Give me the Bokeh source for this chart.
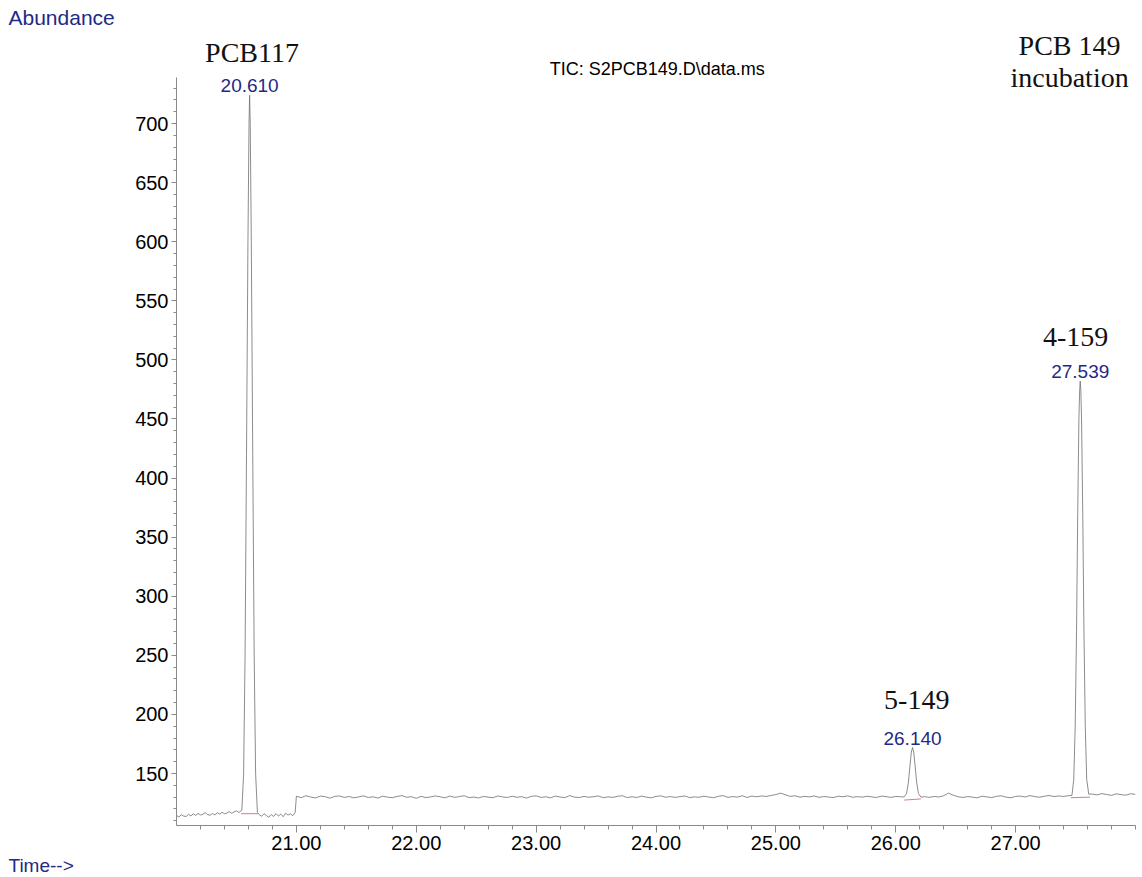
from bokeh.plotting import figure
from bokeh.models import Label, Range1d, FixedTicker, PrintfTickFormatter, Title
from bokeh.embed import file_html
from bokeh.resources import INLINE
import numpy as np

# ---- chromatogram data (retention time in min, abundance) ----
# baseline before the first peak, sampled every 0.02 min from 20.00
base1_start, base1_step = 20.00, 0.02
base1_vals = [114.5, 113.2, 115.1, 114.0, 113.6, 115.4, 114.2, 115.8, 114.6, 116.2,
              114.9, 115.5, 116.8, 115.2, 114.7, 116.1, 115.0, 116.9, 115.6, 117.2,
              115.9, 116.5, 117.8, 116.3, 117.5, 118.4, 117.0, 118.6]

# PCB117 peak
peak1_t = [20.545, 20.56, 20.572, 20.584, 20.596, 20.605, 20.61, 20.615, 20.624,
           20.636, 20.648, 20.66, 20.675]
peak1_v = [119, 150, 250, 420, 600, 700, 724, 700, 600, 420, 250, 150, 117]

# baseline between PCB117 and 21.00 min
base1b_start, base1b_step = 20.69, 0.02
base1b_vals = [115.2, 113.8, 116.0, 114.4, 112.9, 115.3, 113.6, 116.1, 114.0, 115.7,
               113.4, 116.4, 114.8, 115.9, 114.3, 117.0]

# baseline from 21.00 min, sampled every 0.04 min
base2_start, base2_step = 21.00, 0.04
base2_vals = [130.8, 129.6, 131.2, 130.1, 129.3, 130.9, 130.4, 129.1, 130.7, 131.0,
              129.8, 130.5, 129.4, 130.2, 131.1, 129.7, 130.3, 129.2, 130.8, 130.0,
              129.5, 130.6, 131.3, 129.9, 130.4, 129.0, 130.7, 129.6, 130.2, 131.0,
              130.3, 129.4, 130.9, 129.8, 130.5, 131.2, 129.6, 130.1, 129.3, 130.6,
              130.0, 129.5, 131.0, 130.2, 129.7, 130.8, 129.9, 130.4, 129.2, 130.7,
              131.1, 129.8, 130.3, 129.4, 130.9, 130.1, 129.6, 131.3, 130.0, 129.7,
              130.6, 129.9, 130.4, 131.0, 129.5, 130.2, 129.8, 130.7, 131.2, 129.6,
              130.3, 129.7, 130.9, 130.0, 129.4, 130.6, 131.1, 129.9, 130.5, 129.8,
              130.4, 131.0, 129.6, 130.2, 129.9, 130.8, 130.1, 129.5, 130.7, 131.3,
              129.8, 130.5, 130.0, 131.2, 129.7, 130.9, 130.3, 131.0, 130.6, 131.4,
              132.2, 133.4, 132.0, 130.6, 131.2, 129.9, 130.7, 130.2, 131.0, 129.8,
              130.5, 130.1, 129.6, 130.8, 130.3, 131.1, 129.9, 130.4, 130.0, 130.7,
              130.2, 129.7, 130.9, 130.4, 129.8, 130.6, 130.3]

# 5-149 peak
peak2_t = [26.07, 26.09, 26.105, 26.12, 26.13, 26.14, 26.15, 26.16, 26.175, 26.19, 26.21]
peak2_v = [130.2, 133, 142, 158, 168, 172, 168, 158, 142, 133, 130.0]

base2b_start, base2b_step = 26.24, 0.04
base2b_vals = [130.4, 129.8, 130.6, 130.1, 131.2, 133.4, 131.6, 130.3, 129.7, 130.5,
               130.0, 129.4, 130.8, 130.2, 129.6, 130.7, 131.1, 130.0, 129.5, 130.6,
               130.9, 130.1, 131.3, 130.4, 129.9, 130.8, 131.4, 130.5, 131.0, 130.6,
               131.2]

# 4-159 peak
peak3_t = [27.47, 27.485, 27.497, 27.508, 27.518, 27.528, 27.534, 27.539, 27.544,
           27.55, 27.56, 27.57, 27.581, 27.593, 27.61]
peak3_v = [131.5, 145, 190, 270, 370, 450, 474, 482, 474, 450, 370, 270, 190, 145, 132.5]

base2c_start, base2c_step = 27.64, 0.04
base2c_vals = [132.6, 131.9, 133.0, 132.2, 131.5, 132.8, 132.1, 131.7, 132.9, 132.3]

# integration baselines drawn under each peak
integ_t0 = [20.54, 26.07, 27.46]
integ_t1 = [20.68, 26.21, 27.62]
integ_v0 = [116.0, 127.5, 129.5]
integ_v1 = [116.0, 128.5, 130.0]

# retention-time labels
rt_labels = ["20.610", "26.140", "27.539"]
rt_values = [20.610, 26.140, 27.539]
rt_heights = [724, 172, 482]

# axis ticks
x_ticks = [21.0, 22.0, 23.0, 24.0, 25.0, 26.0, 27.0]
x_minor = [20.2, 20.4, 20.6, 20.8, 21.2, 21.4, 21.6, 21.8, 22.2, 22.4, 22.6, 22.8,
           23.2, 23.4, 23.6, 23.8, 24.2, 24.4, 24.6, 24.8, 25.2, 25.4, 25.6, 25.8,
           26.2, 26.4, 26.6, 26.8, 27.2, 27.4, 27.6, 27.8, 28.0]
y_ticks = [150, 200, 250, 300, 350, 400, 450, 500, 550, 600, 650, 700]
y_minor = [110, 120, 130, 140, 160, 170, 180, 190, 210, 220, 230, 240, 260, 270, 280,
           290, 310, 320, 330, 340, 360, 370, 380, 390, 410, 420, 430, 440, 460, 470,
           480, 490, 510, 520, 530, 540, 560, 570, 580, 590, 610, 620, 630, 640, 660,
           670, 680, 690, 710, 720, 730]
y_axis_span = (106, 739)


def sampled(start, step, vals):
    t = start + step * np.arange(len(vals))
    return list(t), list(vals)


segments = [
    sampled(base1_start, base1_step, base1_vals),
    (peak1_t, peak1_v),
    sampled(base1b_start, base1b_step, base1b_vals),
    sampled(base2_start, base2_step, base2_vals),
    (peak2_t, peak2_v),
    sampled(base2b_start, base2b_step, base2b_vals),
    (peak3_t, peak3_v),
    sampled(base2c_start, base2c_step, base2c_vals),
]
time = [t for seg in segments for t in seg[0]]
abund = [v for seg in segments for v in seg[1]]

SANS = "Liberation Sans"
SERIF = "Liberation Serif"
BLUE = "#1e2a86"

p = figure(frame_width=959, frame_height=795, output_backend="svg", toolbar_location=None,
           x_range=Range1d(20.0, 28.0), y_range=Range1d(106, 106 + 795 / 1.1817),
           min_border_left=176, min_border_right=7, min_border_top=30,
           min_border_bottom=52)
p.background_fill_color = "white"
p.border_fill_color = "white"
p.outline_line_color = None
p.xgrid.visible = False
p.ygrid.visible = False

p.line(time, abund, line_color="#6e6e6e", line_width=0.8)
p.segment(x0=integ_t0, y0=integ_v0, x1=integ_t1, y1=integ_v1,
          line_color="#e07a7a", line_width=1)

# axes
for ax in (p.xaxis[0], p.yaxis[0]):
    ax.axis_line_color = "#8a8a8a"
    ax.major_tick_line_color = "#8a8a8a"
    ax.minor_tick_line_color = "#8a8a8a"
    ax.major_label_text_font = SANS
    ax.major_label_text_color = "black"

p.xaxis.ticker = FixedTicker(ticks=x_ticks, minor_ticks=x_minor)
p.xaxis.formatter = PrintfTickFormatter(format="%.2f")
p.xaxis.major_label_text_font_size = "20px"
p.xaxis.major_tick_out = 7
p.xaxis.major_tick_in = 0
p.xaxis.minor_tick_out = 4
p.xaxis.minor_tick_in = 0
p.xaxis.major_label_standoff = 3

p.yaxis.ticker = FixedTicker(ticks=y_ticks, minor_ticks=y_minor)
p.yaxis.bounds = y_axis_span
p.yaxis.major_label_text_font_size = "20px"
p.yaxis.major_tick_out = 5
p.yaxis.major_tick_in = 0
p.yaxis.minor_tick_out = 3
p.yaxis.minor_tick_in = 0
p.yaxis.major_label_standoff = 3

# axis captions
p.add_layout(Title(text="Abundance", align="left", offset=-168, text_font=SANS,
                   text_font_size="21px", text_font_style="normal",
                   text_color=BLUE, standoff=3), "above")
p.add_layout(Title(text="Time-->", align="left", offset=-168, text_font=SANS,
                   text_font_size="19px", text_font_style="normal",
                   text_color=BLUE, standoff=0), "below")

# retention-time labels above the peaks
for txt, rt, h in zip(rt_labels, rt_values, rt_heights):
    p.add_layout(Label(x=rt, y=h, y_offset=3, text=txt, text_align="center",
                       text_baseline="bottom", text_font=SANS,
                       text_font_size="19px", text_color=BLUE))

# compound names
names = [("PCB117", 20.63, 760), ("5-149", 26.175, 212), ("4-159", 27.50, 519),
         ("PCB 149", 27.45, 766), ("incubation", 27.45, 739)]
for txt, x, y in names:
    p.add_layout(Label(x=x, y=y, text=txt, text_align="center",
                       text_baseline="alphabetic", text_font=SERIF,
                       text_font_size="28px", text_color="#111111"))

# trace title
p.add_layout(Label(x=24.01, y=746, text="TIC: S2PCB149.D\\data.ms", text_align="center",
                   text_baseline="alphabetic", text_font=SANS, text_font_size="18px",
                   text_color="black"))

open("out.html", "w").write(file_html(p, INLINE))
